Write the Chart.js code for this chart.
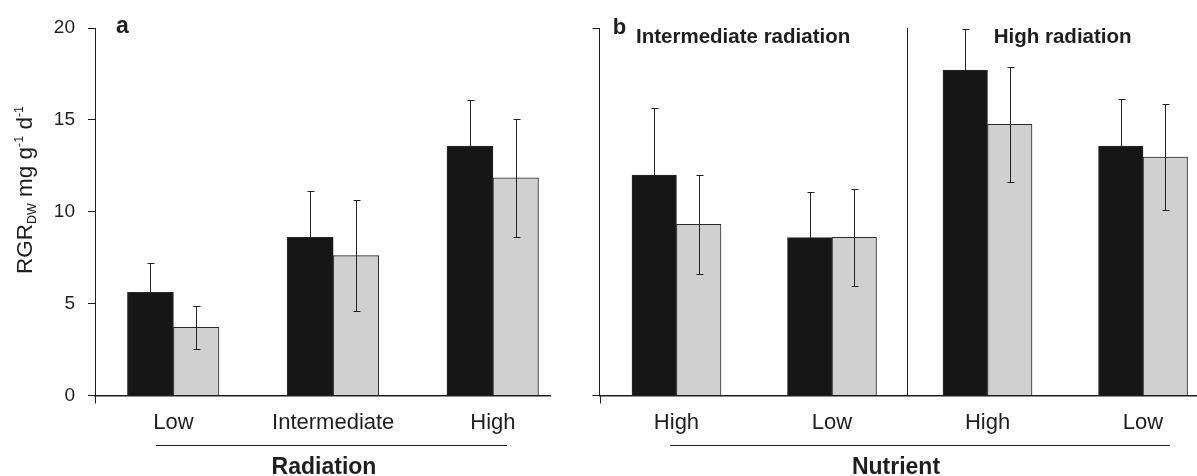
<!DOCTYPE html>
<html>
<head>
<meta charset="utf-8">
<script src="https://cdn.jsdelivr.net/npm/chart.js@4.4.0/dist/chart.umd.min.js"></script>
<style>
  html, body { margin: 0; padding: 0; background: #fff; overflow: hidden; }
  #wrap { position: relative; width: 1197px; height: 476px; }
  canvas { position: absolute; top: 0; }
  #panelA { left: 0; }
  #panelB { left: 560px; }
</style>
</head>
<body>
<div id="wrap">
  <canvas id="panelA" width="560" height="476"></canvas>
  <canvas id="panelB" width="637" height="476"></canvas>
</div>
<script>
// panel a: RGR by radiation level
const radiationLabels = ['Low', 'Intermediate', 'High'];
const darkA = [5.62, 8.61, 13.58];
const darkAErr = [1.59, 2.52, 2.5];
const greyA = [3.71, 7.61, 11.84];
const greyAErr = [1.18, 3.01, 3.2];

// panel b: RGR by nutrient level, split by radiation
const nutrientLabels = ['High', 'Low', 'High', 'Low'];
const radiationGroups = ['Intermediate radiation', 'High radiation'];
const darkB = [12.0, 8.59, 17.71, 13.58];
const darkBErr = [3.65, 2.47, 2.24, 2.54];
const greyB = [9.32, 8.61, 14.76, 12.98];
const greyBErr = [2.69, 2.65, 3.14, 2.86];

const yTicks = [0, 5, 10, 15, 20];

const FONT = 'Liberation Sans, Arial, Helvetica, sans-serif';
const INK = '#1e1e1e';
const DARK = '#161616';
const GREY = '#cfd0cf';

function points(vals) {
  return vals.map((v, i) => ({ x: i, y: v }));
}

function barSet(vals, color, thick) {
  return {
    data: points(vals),
    backgroundColor: color,
    borderColor: '#2a2a2a',
    borderWidth: 1,
    borderSkipped: 'bottom',
    barThickness: thick
  };
}

// errs: one array per dataset; the lower whisker of the dark bars is hidden in the bar
function drawErrors(chart, errs) {
  const ctx = chart.ctx, ys = chart.scales.y;
  ctx.save();
  ctx.strokeStyle = '#222';
  ctx.lineWidth = 1;
  chart.data.datasets.forEach((ds, di) => {
    const meta = chart.getDatasetMeta(di);
    meta.data.forEach((bar, i) => {
      const v = ds.data[i].y, e = errs[di][i];
      const x = Math.round(bar.x) + 0.5;
      const t = Math.round(ys.getPixelForValue(v + e)) + 0.5;
      const b = di === 0 ? Math.round(ys.getPixelForValue(v)) : Math.round(ys.getPixelForValue(v - e)) + 0.5;
      ctx.beginPath();
      ctx.moveTo(x, b); ctx.lineTo(x, t);
      ctx.moveTo(x - 3, t); ctx.lineTo(x + 4, t);
      if (di !== 0) { ctx.moveTo(x - 3, b); ctx.lineTo(x + 4, b); }
      ctx.stroke();
    });
  });
  ctx.restore();
}

// little stub of the y axis below the baseline
function drawStub(chart) {
  const ctx = chart.ctx, a = chart.chartArea;
  const x = Math.round(a.left) + 0.5;
  ctx.save();
  ctx.strokeStyle = INK;
  ctx.lineWidth = 1;
  ctx.beginPath();
  ctx.moveTo(x, a.bottom);
  ctx.lineTo(x, a.bottom + 8);
  ctx.stroke();
  ctx.restore();
}

function drawAxisTitle(ctx, text, cx, x1, x2) {
  ctx.save();
  ctx.strokeStyle = INK;
  ctx.lineWidth = 1;
  ctx.beginPath();
  ctx.moveTo(x1, 445.5);
  ctx.lineTo(x2, 445.5);
  ctx.stroke();
  ctx.fillStyle = INK;
  ctx.font = 'bold 23px ' + FONT;
  ctx.textAlign = 'center';
  ctx.textBaseline = 'alphabetic';
  ctx.fillText(text, cx, 474);
  ctx.restore();
}

function drawYTitle(ctx, bx, cy) {
  const big = 22.5, small = 12.5;
  const parts = [
    { t: 'RGR', f: big, dy: 0 },
    { t: 'DW', f: small, dy: 4 },
    { t: ' mg g', f: big, dy: 0 },
    { t: '-1', f: small, dy: -9 },
    { t: ' d', f: big, dy: 0 },
    { t: '-1', f: small, dy: -9 }
  ];
  ctx.save();
  ctx.translate(bx, cy);
  ctx.rotate(-Math.PI / 2);
  ctx.fillStyle = INK;
  ctx.textBaseline = 'alphabetic';
  ctx.textAlign = 'left';
  let total = 0;
  parts.forEach(p => { ctx.font = p.f + 'px ' + FONT; p.w = ctx.measureText(p.t).width; total += p.w; });
  let x = -total / 2;
  parts.forEach(p => {
    ctx.font = p.f + 'px ' + FONT;
    ctx.fillText(p.t, x, p.dy);
    x += p.w;
  });
  ctx.restore();
}

function yScale(showLabels, width, tickColor) {
  return {
    min: 0,
    max: 20,
    afterBuildTicks: s => { s.ticks = yTicks.map(v => ({ value: v })); },
    ticks: { display: showLabels, padding: 13, color: INK, font: { family: FONT, size: 19 } },
    grid: { drawOnChartArea: false, tickLength: 7, color: tickColor, lineWidth: 1 },
    border: { display: true, color: INK, width: 1 },
    afterFit: s => { s.width = width; }
  };
}

function xScale(labels, min, max) {
  return {
    type: 'linear',
    offset: false,
    min: min,
    max: max,
    afterBuildTicks: s => { s.ticks = labels.map((_, i) => ({ value: i })); },
    ticks: {
      callback: v => labels[v],
      autoSkip: false,
      maxRotation: 0,
      padding: 14,
      color: INK,
      font: { family: FONT, size: 22 }
    },
    grid: { display: false, drawTicks: false },
    border: { display: true, color: INK, width: 1.5 },
    afterFit: s => { s.height = 80.5; }
  };
}

const baseOpts = {
  responsive: false,
  animation: false,
  devicePixelRatio: 1,
  plugins: { legend: { display: false }, tooltip: { enabled: false } }
};

new Chart(document.getElementById('panelA'), {
  type: 'bar',
  data: {
    datasets: [barSet(darkA, DARK, 46), barSet(greyA, GREY, 45.5)]
  },
  options: Object.assign({}, baseOpts, {
    layout: { padding: { top: 28, right: 10, left: 0, bottom: 0 } },
    scales: {
      x: xScale(radiationLabels, -0.491, 2.357),
      y: yScale(true, 95, INK)
    }
  }),
  plugins: [{
    id: 'panelAExtras',
    afterDatasetsDraw(chart) {
      drawErrors(chart, [darkAErr, greyAErr]);
    },
    afterDraw(chart) {
      const ctx = chart.ctx;
      drawStub(chart);
      drawAxisTitle(ctx, 'Radiation', 324, 156, 507);
      drawYTitle(ctx, 31.5, 190);
      ctx.save();
      ctx.fillStyle = INK;
      ctx.font = 'bold 23px ' + FONT;
      ctx.fillText('a', 116, 33);
      ctx.restore();
    }
  }]
});

new Chart(document.getElementById('panelB'), {
  type: 'bar',
  data: {
    datasets: [barSet(darkB, DARK, 44.5), barSet(greyB, GREY, 44.5)]
  },
  options: Object.assign({}, baseOpts, {
    layout: { padding: { top: 28, right: 0, left: 0, bottom: 0 } },
    scales: {
      x: xScale(nutrientLabels, -0.495, 3.347),
      y: yScale(false, 39.5, c => (c.tick && (c.tick.value === 0 || c.tick.value === 20)) ? INK : 'rgba(0,0,0,0)')
    }
  }),
  plugins: [{
    id: 'panelBExtras',
    afterDatasetsDraw(chart) {
      drawErrors(chart, [darkBErr, greyBErr]);
    },
    afterDraw(chart) {
      const ctx = chart.ctx, xs = chart.scales.x, a = chart.chartArea;
      drawStub(chart);
      // separator between the two radiation groups
      const sx = Math.round(xs.getPixelForValue(1.48)) + 0.5;
      ctx.save();
      ctx.strokeStyle = INK;
      ctx.lineWidth = 1;
      ctx.beginPath();
      ctx.moveTo(sx, a.top);
      ctx.lineTo(sx, a.bottom);
      ctx.stroke();
      ctx.fillStyle = INK;
      ctx.font = 'bold 22px ' + FONT;
      ctx.fillText('b', 52.7, 34);
      ctx.font = 'bold 20.5px ' + FONT;
      ctx.textAlign = 'left';
      ctx.fillText(radiationGroups[0], xs.getPixelForValue(-0.26), 43);
      ctx.fillText(radiationGroups[1], xs.getPixelForValue(2.04), 43);
      ctx.restore();
      drawAxisTitle(ctx, 'Nutrient', 336, 110, 610);
    }
  }]
});
</script>
</body>
</html>
